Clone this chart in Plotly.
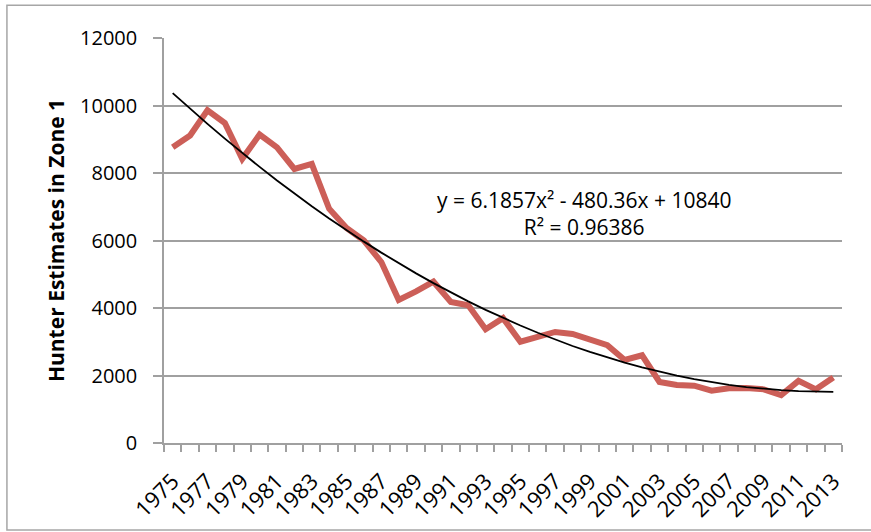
import plotly.graph_objects as go

years = list(range(1975, 2014))
hunters = [8760, 9110, 9860, 9480, 8420, 9140, 8760, 8120, 8270, 6940,
           6370, 6000, 5360, 4240, 4490, 4780, 4180, 4080, 3370, 3700,
           3000, 3150, 3290, 3230, 3050, 2900, 2460, 2600, 1810, 1720,
           1700, 1550, 1620, 1630, 1590, 1420, 1840, 1590, 1940]
# Excel polynomial trendline coefficients as shown on the chart
coef_a, coef_b, coef_c = 6.1857, -480.36, 10840
tick_years = [str(y) for y in years[::2]]
y_ticks = [0, 2000, 4000, 6000, 8000, 10000, 12000]

idx = list(range(1, len(years) + 1))
trend = [coef_a * i * i + coef_b * i + coef_c for i in idx]

W, H = 871, 532
L, R, T, B = 164, 29.3, 37.7, 89
pw, ph = W - L - R, H - T - B

font = "Open Sans"
gray = "#A0A0A0"

def px(xp):
    return (xp - L) / pw

def py(yp):
    return (H - B - yp) / ph

fig = go.Figure()
fig.add_trace(go.Scatter(x=years, y=hunters, mode="lines",
                         line=dict(color="#CC5F58", width=6), showlegend=False))
fig.add_trace(go.Scatter(x=years, y=trend, mode="lines",
                         line=dict(color="black", width=1.8), showlegend=False))

fig.update_layout(
    width=W, height=H, autosize=False,
    margin=dict(l=L, r=R, t=T, b=B, pad=0),
    paper_bgcolor="white", plot_bgcolor="white",
    font=dict(family=font, size=20, color="black"),
    showlegend=False,
)
fig.update_xaxes(
    range=[years[0] - 0.5, years[-1] + 0.5], automargin=False,
    tickmode="array", tickvals=years[::2], ticktext=tick_years, tickangle=-45,
    ticks="outside", ticklen=15, tickcolor="rgba(0,0,0,0)",
    showgrid=False, zeroline=False,
    showline=True, linecolor=gray, linewidth=1.5,
    tickfont=dict(family=font, size=22),
    minor=dict(tickvals=[y - 0.5 for y in years] + [years[-1] + 0.5],
               ticks="outside", ticklen=7, tickcolor=gray, tickwidth=1.5,
               showgrid=False),
)
fig.update_yaxes(
    range=[0, 12000], tickvals=y_ticks, tickformat="d", automargin=False,
    ticks="outside", ticklen=9, tickcolor=gray, tickwidth=1.5,
    showgrid=True, gridcolor=gray, gridwidth=1.5, zeroline=False,
    showline=True, linecolor=gray, linewidth=1.5,
    ticklabelstandoff=12,
    tickfont=dict(family=font, size=20),
    title=dict(text="<b>Hunter Estimates in Zone 1</b>",
               font=dict(family=font, size=21), standoff=10),
)

fig.add_annotation(
    xref="paper", yref="paper",
    x=px(584), y=py(213),
    text="y = 6.1857x² - 480.36x + 10840<br>R² = 0.96386",
    showarrow=False, font=dict(family=font, size=21), align="center",
)

fig.add_shape(type="rect", xref="paper", yref="paper",
              x0=px(7), x1=px(880), y0=py(530), y1=py(5),
              line=dict(color="#A6A6A6", width=1.5), layer="below")

fig.write_html("out.html")
